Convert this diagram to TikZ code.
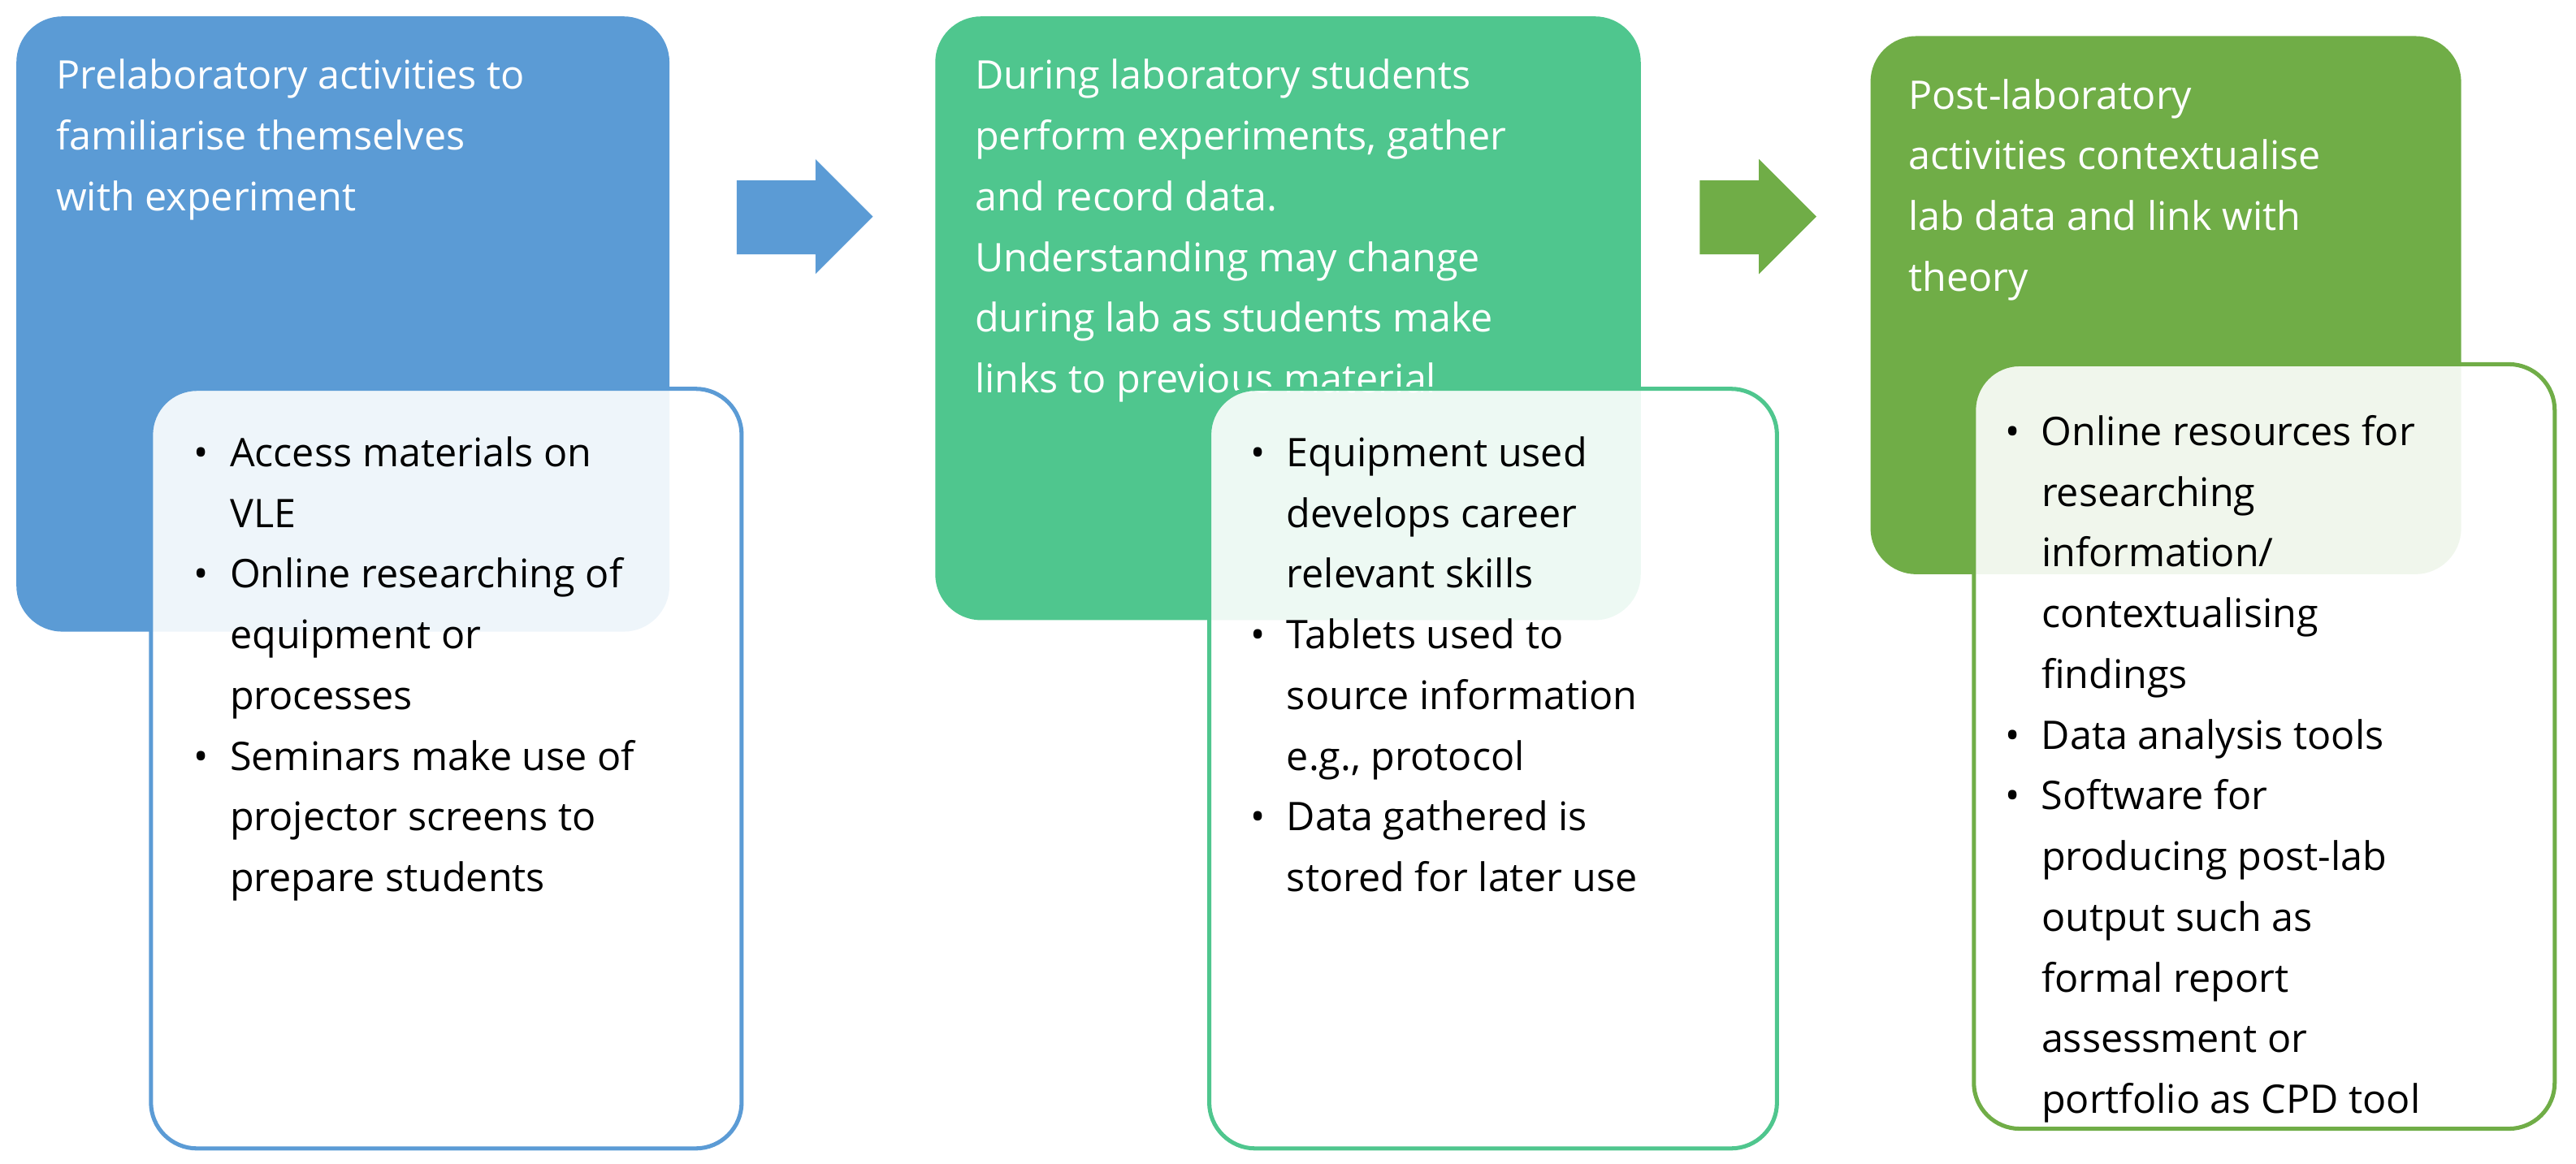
\documentclass[tikz,border=0pt]{standalone}
\usepackage{fontspec}
\setmainfont{Open Sans}
\definecolor{cblue}{HTML}{5B9BD5}
\definecolor{cteal}{HTML}{4FC68E}
\definecolor{cgreen}{HTML}{70AD47}
\newcommand{\bl}{\makebox[22pt][l]{\textbullet}}
\newcommand{\ind}{\hspace*{22pt}}
\begin{document}
\begin{tikzpicture}[x=1pt,y=-1pt,
  big/.style={rounded corners=28pt,draw=none},
  small/.style={rounded corners=28pt,line width=2.5pt,fill=white,fill opacity=0.9,text opacity=1},
  head/.style={anchor=north west,align=left,text=white,inner sep=0pt,font=\fontsize{24}{37}\selectfont},
  body/.style={anchor=north west,align=left,inner sep=0pt,font=\fontsize{24}{37}\selectfont}]
\useasboundingbox (0,0) rectangle (1570,709);
% box 1
\fill[cblue,big] (10,10) rectangle (408,385);
\node[head] (h1) at (34,36) {Prelaboratory activities to\\familiarise themselves\\with experiment};
\draw[small,draw=cblue] (92,237) rectangle (452,700);
\node[body] (b1) at (118,266) {\bl Access materials on\\\ind VLE\\\bl Online researching of\\\ind equipment or\\\ind processes\\\bl Seminars make use of\\\ind projector screens to\\\ind prepare students};
% arrow 1
\fill[cblue] (449,110) -- (497,110) -- (497,97) -- (532,132) -- (497,167) -- (497,155) -- (449,155) -- cycle;
% box 2
\fill[cteal,big] (570,10) rectangle (1000,378);
\node[head] (h2) at (594,36) {During laboratory students\\perform experiments, gather\\and record data.\\Understanding may change\\during lab as students make\\links to previous material};
\draw[small,draw=cteal] (737,237) rectangle (1083,700);
\node[body] (b2) at (762,266) {\bl Equipment used\\\ind develops career\\\ind relevant skills\\\bl Tablets used to\\\ind source information\\\ind e.g., protocol\\\bl Data gathered is\\\ind stored for later use};
% arrow 2
\fill[cgreen] (1036,110) -- (1072,110) -- (1072,97) -- (1107,132) -- (1072,167) -- (1072,155) -- (1036,155) -- cycle;
% box 3
\fill[cgreen,big] (1140,22) rectangle (1500,350);
\node[head] (h3) at (1163,48) {Post-laboratory\\activities contextualise\\lab data and link with\\theory};
\draw[small,draw=cgreen] (1203,222) rectangle (1557,688);
\node[body] (b3) at (1222,253) {\bl Online resources for\\\ind researching\\\ind information/\\\ind contextualising\\\ind findings\\\bl Data analysis tools\\\bl Software for\\\ind producing post-lab\\\ind output such as\\\ind formal report\\\ind assessment or\\\ind portfolio as CPD tool};
\end{tikzpicture}
\end{document}
